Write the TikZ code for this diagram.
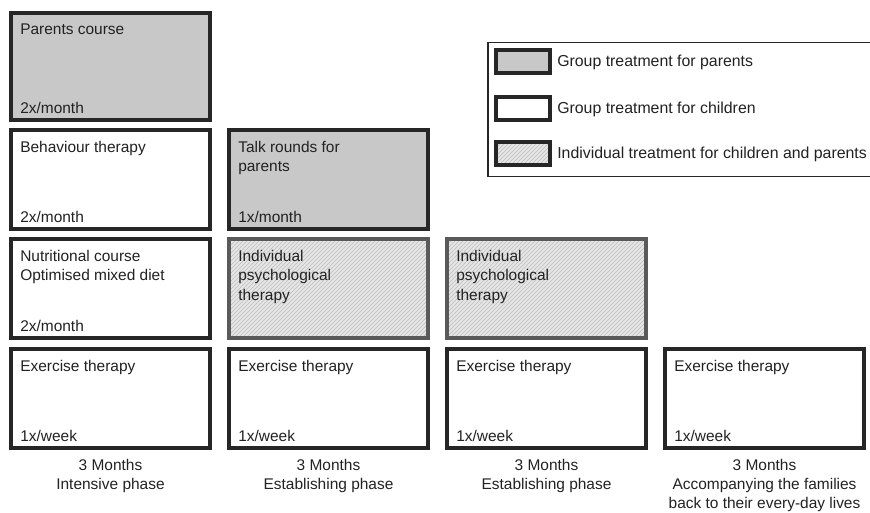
\documentclass[tikz,border=0pt]{standalone}
\usepackage{fontspec}
\setmainfont{Liberation Sans}
\usetikzlibrary{calc,patterns}
\definecolor{edge}{HTML}{262626}
\definecolor{pgrey}{HTML}{C8C8C8}
\definecolor{hatchbg}{HTML}{E6E6E6}
\definecolor{hatchln}{HTML}{BDBDBD}
\definecolor{iedge}{HTML}{5A5A5A}
\definecolor{txt}{HTML}{222222}
\begin{document}
\begin{tikzpicture}[x=0.75pt,y=-0.75pt,
 every node/.style={font=\fontsize{11.6}{14.6}\selectfont, text=txt},
 basebox/.style={draw=edge, line width=3pt, minimum width=149.25pt, inner sep=0pt, outer sep=0pt},
 whitebox/.style={basebox, fill=white},
 parentbox/.style={basebox, fill=pgrey},
 indivbox/.style={basebox, draw=iedge, preaction={fill=hatchbg}, preaction={pattern=north east lines, pattern color=hatchln}},
 tall/.style={minimum height=80.25pt},
 std/.style={minimum height=74.25pt},
 toptext/.style={anchor=north west, inner sep=0pt, align=left},
 bottext/.style={anchor=base west, inner sep=0pt},
 phase/.style={anchor=north, inner sep=0pt, align=center, font=\fontsize{11.6}{14.2}\selectfont},
 swatch/.style={draw=edge, line width=3pt, minimum width=40.5pt, minimum height=17.25pt, inner sep=0pt, outer sep=0pt},
 legtext/.style={anchor=west, inner sep=0pt, font=\fontsize{11.9}{14.6}\selectfont}
]
\useasboundingbox (0,0) rectangle (870,512);
\clip (0,0) rectangle (870,512);

% column 1
\node[parentbox, tall] (pc) at (110.5,66.5) {};
\node[toptext] (pct) at ($(pc.north west)+(9,11)$) {Parents course};
\node[bottext] (pcb) at ($(pc.south west)+(9,-7)$) {2x/month};

\node[whitebox, std] (bt) at (110.5,179.5) {};
\node[toptext] (btt) at ($(bt.north west)+(9,11)$) {Behaviour therapy};
\node[bottext] (btb) at ($(bt.south west)+(9,-7)$) {2x/month};

\node[whitebox, std] (nc) at (110.5,288.5) {};
\node[toptext] (nct) at ($(nc.north west)+(9,11)$) {Nutritional course\\Optimised mixed diet};
\node[bottext] (ncb) at ($(nc.south west)+(9,-7)$) {2x/month};

\node[whitebox, std] (e1) at (110.5,398.5) {};
\node[toptext] (e1t) at ($(e1.north west)+(9,11)$) {Exercise therapy};
\node[bottext] (e1b) at ($(e1.south west)+(9,-7)$) {1x/week};

% column 2
\node[parentbox, std] (tr) at (328.5,179.5) {};
\node[toptext] (trt) at ($(tr.north west)+(9,11)$) {Talk rounds for\\parents};
\node[bottext] (trb) at ($(tr.south west)+(9,-7)$) {1x/month};

\node[indivbox, std] (ip2) at (328.5,288.5) {};
\node[toptext] (ip2t) at ($(ip2.north west)+(9,11)$) {Individual\\psychological\\therapy};

\node[whitebox, std] (e2) at (328.5,398.5) {};
\node[toptext] (e2t) at ($(e2.north west)+(9,11)$) {Exercise therapy};
\node[bottext] (e2b) at ($(e2.south west)+(9,-7)$) {1x/week};

% column 3
\node[indivbox, std] (ip3) at (546.5,288.5) {};
\node[toptext] (ip3t) at ($(ip3.north west)+(9,11)$) {Individual\\psychological\\therapy};

\node[whitebox, std] (e3) at (546.5,398.5) {};
\node[toptext] (e3t) at ($(e3.north west)+(9,11)$) {Exercise therapy};
\node[bottext] (e3b) at ($(e3.south west)+(9,-7)$) {1x/week};

% column 4
\node[whitebox, std] (e4) at (764.5,398.5) {};
\node[toptext] (e4t) at ($(e4.north west)+(9,11)$) {Exercise therapy};
\node[bottext] (e4b) at ($(e4.south west)+(9,-7)$) {1x/week};

% phase labels
\node[phase] (ph1) at (110.5,459.5) {3 Months\\Intensive phase};
\node[phase] (ph2) at (328.5,459.5) {3 Months\\Establishing phase};
\node[phase] (ph3) at (546.5,459.5) {3 Months\\Establishing phase};
\node[phase] (ph4) at (764.5,459.5) {3 Months\\Accompanying the families\\back to their every-day lives};

% legend
\node[draw=edge, line width=1.1pt, minimum width=294pt, minimum height=100.5pt, inner sep=0pt, outer sep=0pt, fill=white] (leg) at (684,109.5) {};
\node[swatch, fill=pgrey] (s1) at (523,61.5) {};
\node[swatch, fill=white] (s2) at (523,108) {};
\node[swatch, preaction={fill=hatchbg}, preaction={pattern=north east lines, pattern color=hatchln}] (s3) at (523,153.5) {};
\node[legtext] (l1) at ($(s1.east)+(7,1)$) {Group treatment for parents};
\node[legtext] (l2) at ($(s2.east)+(7,1)$) {Group treatment for children};
\node[legtext] (l3) at ($(s3.east)+(7,1)$) {Individual treatment for children and parents};
\end{tikzpicture}
\end{document}
